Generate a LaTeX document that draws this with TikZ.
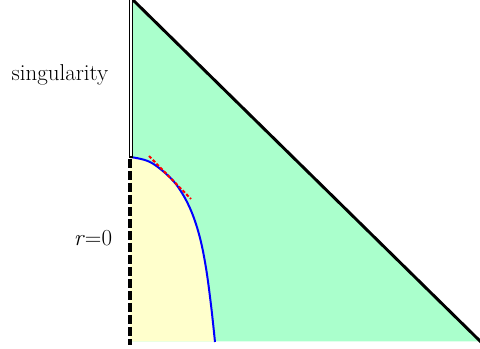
\documentclass[tikz,border=0pt]{standalone}
\definecolor{mint}{HTML}{AAFFCC}
\definecolor{cream}{HTML}{FFFFCC}
\begin{document}
\begin{tikzpicture}[x=0.75pt,y=-0.75pt,
  lbl/.style={font=\rmfamily\fontsize{17.2pt}{20pt}\selectfont, inner sep=0pt},
  edge/.style={line width=2.2pt, black},
  curve/.style={line width=1.5pt, blue},
  tangent/.style={line width=1.5pt, red, dash pattern=on 2.5pt off 1.5pt}]
\useasboundingbox (0,0) rectangle (480,349);
\clip (0,0) rectangle (480,349);
% green region
\fill[mint] (131,-2) -- (482,343) -- (482,341.5) -- (130,341.5) -- cycle;
% yellow region
\fill[cream] (130,157) plot[smooth, tension=0.6] coordinates {(130,157) (150,162) (170,177.5) (182,193) (192,213) (200,238) (206,268) (211,305) (215,341.5)} -- (130,341.5) -- cycle;
% blue curve
\draw[curve] plot[smooth, tension=0.6] coordinates {(130,157) (150,162) (170,177.5) (182,193) (192,213) (200,238) (206,268) (211,305) (215,342)};
% red tangent
\draw[tangent] (149,156) -- (191,199);
% diagonal
\draw[edge] (131,-2) -- (481,342);
% singularity double line
\draw[black, line width=0.9pt, fill=white] (129.2,-5) rectangle (132.8,157);
% r=0 dashed
\draw[line width=2.3pt, black, dash pattern=on 6.4pt off 2.6pt] (130,159) -- (130,345);
\node[lbl] (sing) at (60,75) {singularity};
\node[lbl] (r0) at (93,238) {\textit{r}=0};
\end{tikzpicture}
\end{document}
